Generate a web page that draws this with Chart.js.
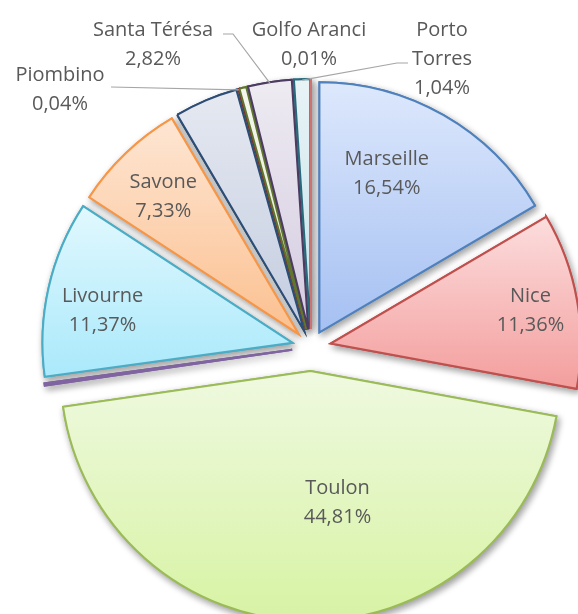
<!DOCTYPE html>
<html>
<head>
<meta charset="utf-8">
<script src="https://cdn.jsdelivr.net/npm/chart.js@4"></script>
<style>
html,body{margin:0;padding:0;background:#ffffff;}
canvas{display:block;}
</style>
</head>
<body>
<canvas id="c" width="578" height="614" style="width:578px;height:614px"></canvas>
<script>
// ---- data ----
const CATEGORIES = ['Marseille', 'Nice', 'Toulon', 'Non étiqueté 1', 'Livourne', 'Savone',
  'Non étiqueté 2', 'Piombino', 'Non étiqueté 3', 'Santa Térésa', 'Porto Torres', 'Golfo Aranci'];
const VALUES = [16.54, 11.36, 44.81, 0.13, 11.37, 7.33, 4.10, 0.04, 0.45, 2.82, 1.04, 0.01];
const SHOW_LABEL = [true, true, true, false, true, true, false, true, false, true, true, true];

// ---- styles ----
const BORDER_COLORS = ['#4f81bd', '#c0504d', '#9bbb59', '#8064a2', '#4bacc6', '#f79646',
  '#2c4d75', '#772c2a', '#5f7530', '#4d3b62', '#276a7c', '#cd7371'];
const FILL_TOP = ['#dde8fc', '#fcdddd', '#eff9e0', '#e9e3f1', '#e1f8fe', '#fee6d3',
  '#e6e9f1', '#f3dede', '#f4f7ee', '#eeebf2', '#e8f3f6', '#f6dcdb'];
const FILL_BOTTOM = ['#a5c0f2', '#f39e9d', '#d7f3a3', '#cfc2e0', '#aae9fb', '#fbc090',
  '#c3cde0', '#dcb0af', '#dfe8cc', '#d4cbe0', '#c6e2ea', '#e7aaa8'];
const EXPLODE = [17, 20, 24, 19, 19, 18, 18, 18, 18, 18, 18, 18];
const RADIUS = 250;
const FONT = '20px "Open Sans"';
const TEXT_COLOR = '#595959';
const LINE_H = 29;

// label layout: inside labels relative to slice, outside labels with leader lines
const LABEL_LAYOUT = {
  0: {mode: 'in', frac: 0.69, dA: -6.8},
  1: {mode: 'in', frac: 0.81, dA: 0.6},
  2: {mode: 'in', frac: 0.54, dA: -12.6},
  4: {mode: 'in', frac: 0.77, dA: -3.2},
  5: {mode: 'in', frac: 0.77, dA: -1.0},
  7: {mode: 'out', x: 60, y: 89.5, wrap: false, leader: [[111, 87]]},
  9: {mode: 'out', x: 153, y: 45, wrap: false, leader: [[223, 34], [233, 34]]},
  10: {mode: 'out', x: 442, y: 59, wrap: true, leader: [[408, 63], [397, 63]]},
  11: {mode: 'out', x: 309, y: 45, wrap: false, leader: null}
};

function fmtPct(v) { return v.toFixed(2).replace('.', ',') + '%'; }

function sliceGradient(c) {
  const chart = c.chart, area = chart.chartArea, i = c.dataIndex;
  if (!area) return FILL_TOP[i];
  const total = VALUES.reduce((a, b) => a + b, 0);
  let before = 0;
  for (let k = 0; k < i; k++) before += VALUES[k];
  const a0 = -Math.PI / 2 + before / total * 2 * Math.PI;
  const a1 = a0 + VALUES[i] / total * 2 * Math.PI;
  const cy = (area.top + area.bottom) / 2;
  let minY = cy, maxY = cy;
  for (let s = 0; s <= 60; s++) {
    const a = a0 + (a1 - a0) * s / 60;
    const y = cy + Math.sin(a) * RADIUS;
    minY = Math.min(minY, y); maxY = Math.max(maxY, y);
  }
  if (maxY - minY < 1) maxY = minY + 1;
  const g = chart.ctx.createLinearGradient(0, minY, 0, maxY);
  g.addColorStop(0, FILL_TOP[i]);
  g.addColorStop(1, FILL_BOTTOM[i]);
  return g;
}

function apexOf(arc, i) {
  const mid = (arc.startAngle + arc.endAngle) / 2;
  return {x: arc.x + Math.cos(mid) * EXPLODE[i], y: arc.y + Math.sin(mid) * EXPLODE[i], mid};
}

const explodePlugin = {
  id: 'explode',
  beforeDatasetDraw(chart, args) {
    const ctx = chart.ctx;
    const arcs = args.meta.data;
    // pass 1: shadows
    arcs.forEach((arc, i) => {
      const p = apexOf(arc, i);
      ctx.save();
      ctx.translate(p.x - arc.x, p.y - arc.y);
      ctx.shadowColor = 'rgba(0,0,0,0.38)';
      ctx.shadowBlur = 7;
      ctx.shadowOffsetX = 2;
      ctx.shadowOffsetY = 3;
      arc.draw(ctx, chart.chartArea);
      ctx.restore();
    });
    // pass 2: clean slices
    arcs.forEach((arc, i) => {
      const p = apexOf(arc, i);
      ctx.save();
      ctx.translate(p.x - arc.x, p.y - arc.y);
      arc.draw(ctx, chart.chartArea);
      ctx.restore();
    });
    return false;
  },
  afterDatasetsDraw(chart) {
    const ctx = chart.ctx;
    const arcs = chart.getDatasetMeta(0).data;
    ctx.save();
    ctx.font = FONT;
    ctx.fillStyle = TEXT_COLOR;
    ctx.textAlign = 'center';
    ctx.textBaseline = 'middle';
    arcs.forEach((arc, i) => {
      if (!SHOW_LABEL[i]) return;
      const lay = LABEL_LAYOUT[i];
      if (!lay) return;
      const p = apexOf(arc, i);
      const name = CATEGORIES[i];
      let lines = lay.wrap ? name.split(' ') : [name];
      lines = lines.concat([fmtPct(VALUES[i])]);
      let cx, cy;
      if (lay.mode === 'in') {
        const a = p.mid + lay.dA * Math.PI / 180;
        cx = p.x + Math.cos(a) * RADIUS * lay.frac;
        cy = p.y + Math.sin(a) * RADIUS * lay.frac;
      } else {
        cx = lay.x; cy = lay.y;
        if (lay.leader) {
          const ex = p.x + Math.cos(p.mid) * (arc.outerRadius - 1);
          const ey = p.y + Math.sin(p.mid) * (arc.outerRadius - 1);
          ctx.save();
          ctx.strokeStyle = '#a6a6a6';
          ctx.lineWidth = 1.2;
          ctx.beginPath();
          ctx.moveTo(lay.leader[0][0], lay.leader[0][1]);
          for (let k = 1; k < lay.leader.length; k++) ctx.lineTo(lay.leader[k][0], lay.leader[k][1]);
          ctx.lineTo(ex, ey);
          ctx.stroke();
          ctx.restore();
        }
      }
      const y0 = cy - (lines.length - 1) * LINE_H / 2;
      lines.forEach((t, k) => ctx.fillText(t, cx, y0 + k * LINE_H));
    });
    ctx.restore();
  }
};

new Chart(document.getElementById('c'), {
  type: 'pie',
  data: {
    labels: CATEGORIES,
    datasets: [{
      data: VALUES,
      backgroundColor: sliceGradient,
      borderColor: BORDER_COLORS,
      borderWidth: 2,
      borderJoinStyle: 'miter',
      clip: false
    }]
  },
  options: {
    responsive: false,
    animation: false,
    radius: RADIUS,
    layout: {padding: {left: 44, top: 80, right: 0, bottom: 0}},
    plugins: {legend: {display: false}, tooltip: {enabled: false}}
  },
  plugins: [explodePlugin]
});
</script>
</body>
</html>
